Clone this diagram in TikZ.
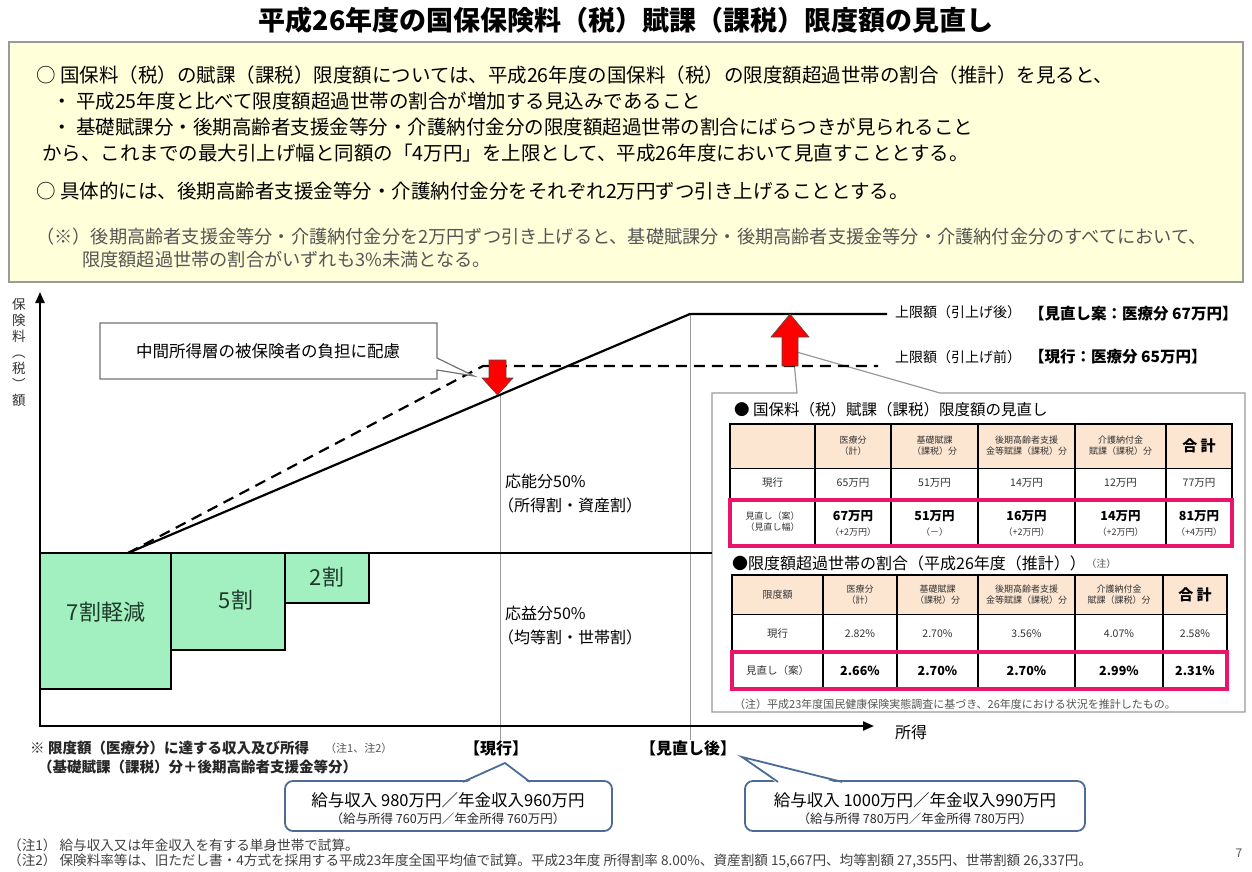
\documentclass[tikz,border=0pt]{standalone}
\usepackage{fontspec}
\setmainfont{Noto Sans CJK JP}
\usetikzlibrary{arrows.meta}
\newcommand{\fsz}[2]{\fontsize{#1}{#2}\selectfont}
\definecolor{ybox}{HTML}{FFFFD9}
\definecolor{bordgray}{HTML}{9A9A9A}
\definecolor{mint}{HTML}{A2F0C0}
\definecolor{pinkb}{HTML}{E8156A}
\definecolor{peach}{HTML}{FCE6D2}
\definecolor{callb}{HTML}{4C6C96}
\definecolor{txtgray}{HTML}{555555}
\definecolor{redarrow}{HTML}{FF0000}
\definecolor{greentext}{HTML}{1E3A2A}
\tikzset{
  ln/.style={anchor=west, inner sep=0pt},
  mainline/.style={ln, font=\fsz{19.5}{23}},
  noteline/.style={ln, font=\fsz{18.2}{21}, text=txtgray},
  axisline/.style={line width=2.2pt, -{Triangle[width=9pt,length=11pt]}},
  limitline/.style={line width=2.2pt},
  guide/.style={line width=0.8pt, bordgray},
  redarr/.style={fill=redarrow, draw=black!70, line width=0.6pt},
  greenbox/.style={draw=black, line width=1.3pt, fill=mint},
  greenlabel/.style={inner sep=0pt, font=\fsz{22}{26}, text=greentext},
  lbl/.style={ln, font=\fsz{16}{19}},
  hd/.style={inner sep=0pt, align=center, font=\fsz{9}{11}, text=black!80},
  val/.style={inner sep=0pt, align=center, font=\fsz{10.5}{12}, text=black!80},
  bval/.style={inner sep=0pt, align=center, font=\fsz{12.5}{14}\bfseries},
  sumhd/.style={inner sep=0pt, font=\fsz{15}{17}\bfseries},
  thick2/.style={line width=2.4pt},
  thin1/.style={line width=1pt},
  pinkframe/.style={draw=pinkb, line width=4pt},
  callout/.style={draw=callb, line width=1.8pt, fill=white, rounded corners=8pt},
  foot/.style={ln, font=\fsz{13.6}{15}, text=black!75},
}
\begin{document}
\begin{tikzpicture}[x=1pt,y=-1pt]
\useasboundingbox (0,0) rectangle (1252,872);
\fill[white] (0,0) rectangle (1252,872);

% title
\node[font=\fsz{27}{31}\bfseries] (title) at (626,20) {平成26年度の国保保険料（税）賦課（課税）限度額の見直し};

% yellow box
\draw[bordgray, fill=ybox, line width=1.2pt] (9,42) rectangle (1243,282);
\node[mainline] (l1) at (36,75) {○ 国保料（税）の賦課（課税）限度額については、平成26年度の国保料（税）の限度額超過世帯の割合（推計）を見ると、};
\node[mainline] (l2) at (52,101) {・ 平成25年度と比べて限度額超過世帯の割合が増加する見込みであること};
\node[mainline] (l3) at (52,127) {・ 基礎賦課分・後期高齢者支援金等分・介護納付金分の限度額超過世帯の割合にばらつきが見られること};
\node[mainline] (l4) at (42,153) {から、これまでの最大引上げ幅と同額の「4万円」を上限として、平成26年度において見直すこととする。};
\node[mainline] (l5) at (36,191) {○ 具体的には、後期高齢者支援金等分・介護納付金分をそれぞれ2万円ずつ引き上げることとする。};
\node[noteline] (l6) at (36,237) {（※）後期高齢者支援金等分・介護納付金分を2万円ずつ引き上げると、基礎賦課分・後期高齢者支援金等分・介護納付金分のすべてにおいて、};
\node[noteline] (l7) at (82,260) {限度額超過世帯の割合がいずれも3\%未満となる。};

% table frame with tail (drawn first, lines go over the tail)
\draw[bordgray, fill=white, line width=1.2pt] (712,393) -- (797,393) -- (793,351) -- (940,393) -- (1245,393) -- (1245,712) -- (712,712) -- cycle;

% guides
\coordinate (O) at (40,726);
\coordinate (S) at (128,553);
\coordinate (K1) at (690,314);
\coordinate (D1) at (483,366);
\draw[guide] (500,395) -- (500,740);
\draw[guide] (690,314) -- (690,740);

% middle horizontal line
\draw[line width=2pt] (40,553) -- (712,553);

% green boxes
\draw[greenbox] (40,553) rectangle (171,689);
\draw[greenbox] (171,553) rectangle (285,650);
\draw[greenbox] (285,553) rectangle (369,603);
\node[greenlabel] (g7) at (106,612) {7割軽減};
\node[greenlabel] (g5) at (236,600) {5割};
\node[greenlabel] (g2) at (327,577) {2割};

% axes
\draw[axisline] (40,727) -- (40,292);
\draw[axisline] (39,726) -- (874,726);
\node[inner sep=0pt, align=center, font=\fsz{13.5}{16}, text=black!80] (ylab) at (19,352) {保\\険\\料\\︵\\税\\︶\\額};
\node[inner sep=0pt, font=\fsz{16}{19}] (xlab) at (911,732) {所得};

% limit lines
\draw[limitline] (S) -- (K1) -- (887,314);
\draw[limitline, dash pattern=on 11pt off 7pt] (S) -- (D1) -- (878,366);

% red arrows
\draw[redarr] (782,366) -- (782,337) -- (771,337) -- (790,314) -- (809,337) -- (798,337) -- (798,366) -- cycle;
\draw[redarr] (489,360) -- (506,360) -- (506,378) -- (513,378) -- (497.5,395) -- (482,378) -- (489,378) -- cycle;

% callout middle income
\draw[draw=black!55, fill=white, line width=1.2pt] (100,323) -- (437,323) -- (437,358) -- (474,376) -- (437,370) -- (437,379) -- (100,379) -- cycle;
\node[inner sep=0pt, font=\fsz{16.5}{19}] (mid) at (268,351) {中間所得層の被保険者の負担に配慮};

% right labels
\node[ln, font=\fsz{14}{16}] (up1) at (895,312) {上限額（引上げ後）};
\node[ln, font=\fsz{15.5}{17}\bfseries] (up2) at (1029,314) {【見直し案：医療分 67万円】};
\node[ln, font=\fsz{14}{16}] (lo1) at (895,357) {上限額（引上げ前）};
\node[ln, font=\fsz{15.5}{17}\bfseries] (lo2) at (1029,357) {【現行：医療分 65万円】};

% 応能 / 応益
\node[lbl] (on1) at (505,481) {応能分50\%};
\node[lbl] (on2) at (498,505) {（所得割・資産割）};
\node[lbl] (oe1) at (505,613) {応益分50\%};
\node[lbl] (oe2) at (498,637) {（均等割・世帯割）};

% table 1
\node[ln, font=\fsz{15.5}{18}] (t1title) at (734,410) {● 国保料（税）賦課（課税）限度額の見直し};
\fill[peach] (730,424) rectangle (1232,468);
\foreach \x in {730,815,891,978,1075,1166,1232} \draw[thick2] (\x,424) -- (\x,545);
\draw[thick2] (728.8,424) -- (1233.2,424);
\draw[thin1] (730,468) -- (1232,468);
\draw[thin1] (730,498) -- (1232,498);
\node[hd] (a12) at (853,446) {医療分\\（計）};
\node[hd] (a13) at (934.5,446) {基礎賦課\\（課税）分};
\node[hd] (a14) at (1026.5,446) {後期高齢者支援\\金等賦課（課税）分};
\node[hd] (a15) at (1120.5,446) {介護納付金\\賦課（課税）分};
\node[sumhd] (a16) at (1199,446) {合 計};
\node[val] (a21) at (772.5,483) {現行};
\node[val] (a22) at (853,483) {65万円};
\node[val] (a23) at (934.5,483) {51万円};
\node[val] (a24) at (1026.5,483) {14万円};
\node[val] (a25) at (1120.5,483) {12万円};
\node[val] (a26) at (1199,483) {77万円};
\node[hd] (a31) at (772.5,522) {見直し（案）\\（見直し幅）};
\node[bval] (a32) at (853,516) {67万円};
\node[bval] (a33) at (934.5,516) {51万円};
\node[bval] (a34) at (1026.5,516) {16万円};
\node[bval] (a35) at (1120.5,516) {14万円};
\node[bval] (a36) at (1199,516) {81万円};
\node[hd] (b32) at (853,532) {（+2万円）};
\node[hd] (b33) at (934.5,532) {（－）};
\node[hd] (b34) at (1026.5,532) {（+2万円）};
\node[hd] (b35) at (1120.5,532) {（+2万円）};
\node[hd] (b36) at (1199,532) {（+4万円）};
\draw[pinkframe] (730,500) rectangle (1232,546);

% table 2
\node[ln, font=\fsz{16}{18}] (t2title) at (732,563) {●限度額超過世帯の割合（平成26年度（推計））};
\node[anchor=west, inner sep=0pt, font=\fsz{10}{12}, text=txtgray] (t2note) at ([yshift=-1pt]t2title.east) {（注）};
\fill[peach] (732,575) rectangle (1227,614);
\foreach \x in {732,823,897,978,1075,1163,1227} \draw[thick2] (\x,575) -- (\x,688);
\draw[thick2] (730.8,575) -- (1228.2,575);
\draw[thin1] (732,614) -- (1227,614);
\node[hd, font=\fsz{10}{12}] (c11) at (777.5,594.5) {限度額};
\node[hd] (c12) at (860,594.5) {医療分\\（計）};
\node[hd] (c13) at (937.5,594.5) {基礎賦課\\（課税）分};
\node[hd] (c14) at (1026.5,594.5) {後期高齢者支援\\金等賦課（課税）分};
\node[hd] (c15) at (1119,594.5) {介護納付金\\賦課（課税）分};
\node[sumhd] (c16) at (1195,594.5) {合 計};
\node[val] (c21) at (777.5,633.5) {現行};
\node[val] (c22) at (860,633.5) {2.82\%};
\node[val] (c23) at (937.5,633.5) {2.70\%};
\node[val] (c24) at (1026.5,633.5) {3.56\%};
\node[val] (c25) at (1119,633.5) {4.07\%};
\node[val] (c26) at (1195,633.5) {2.58\%};
\node[val] (c31) at (777.5,671) {見直し（案）};
\node[bval] (c32) at (860,671) {2.66\%};
\node[bval] (c33) at (937.5,671) {2.70\%};
\node[bval] (c34) at (1026.5,671) {2.70\%};
\node[bval] (c35) at (1119,671) {2.99\%};
\node[bval] (c36) at (1195,671) {2.31\%};
\draw[pinkframe] (732,652) rectangle (1227,689);
\node[ln, font=\fsz{11}{13}, text=txtgray] (t2foot) at (734,704) {（注）平成23年度国民健康保険実態調査に基づき、26年度における状況を推計したもの。};

% lower labels
\node[ln, font=\fsz{14.5}{16}\bfseries, text=black!85] (r1) at (30,748) {※ 限度額（医療分）に達する収入及び所得};
\node[ln, font=\fsz{11}{13}, text=txtgray] (r1n) at (325,748) {（注1、注2）};
\node[ln, font=\fsz{14.5}{16}\bfseries, text=black!85] (r2) at (38,767) {（基礎賦課（課税）分＋後期高齢者支援金等分）};
\node[inner sep=0pt, font=\fsz{16}{19}\bfseries] (cur) at (496,748) {【現行】};
\node[inner sep=0pt, font=\fsz{16}{19}\bfseries] (rev) at (688,748) {【見直し後】};

% callouts
\draw[callout] (285,781) rectangle (612,831);
\fill[white] (463,784) -- (505,763) -- (530,784) -- cycle;
\draw[callb, line width=1.8pt, line join=miter] (463,781.9) -- (505,763) -- (530,781.9);
\node[inner sep=0pt, font=\fsz{16.5}{19}] (cb1a) at (448,800) {給与収入 980万円／年金収入960万円};
\node[inner sep=0pt, font=\fsz{12.5}{14}, text=black!85] (cb1b) at (448,819) {（給与所得 760万円／年金所得 760万円）};

\draw[callout] (745,781) rectangle (1085,831);
\fill[white] (778,784) -- (742,757) -- (842,784) -- cycle;
\draw[callb, line width=1.8pt, line join=miter] (778,781.9) -- (742,757) -- (842,781.9);
\node[inner sep=0pt, font=\fsz{16.5}{19}] (cb2a) at (915,800) {給与収入 1000万円／年金収入990万円};
\node[inner sep=0pt, font=\fsz{12.5}{14}, text=black!85] (cb2b) at (915,819) {（給与所得 780万円／年金所得 780万円）};

% footnotes
\node[foot] (f1) at (8,845) {（注1） 給与収入又は年金収入を有する単身世帯で試算。};
\node[foot] (f2) at (8,861) {（注2） 保険料率等は、旧ただし書・4方式を採用する平成23年度全国平均値で試算。平成23年度 所得割率 8.00\%、資産割額 15,667円、均等割額 27,355円、世帯割額 26,337円。};
\node[inner sep=0pt, font=\fsz{12}{14}, text=txtgray] (pg) at (1239,853) {7};
\end{tikzpicture}
\end{document}
